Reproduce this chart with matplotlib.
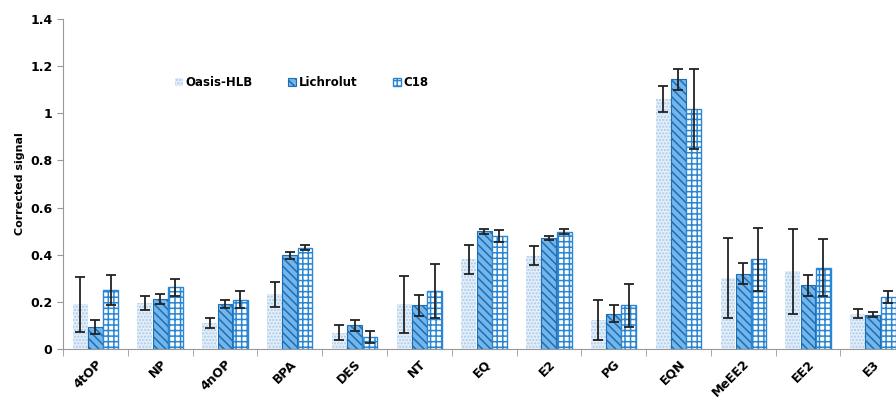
import numpy as np
import matplotlib.pyplot as plt
from matplotlib.ticker import FuncFormatter

# corrected signal per compound and SPE sorbent
compounds = ['4tOP', 'NP', '4nOP', 'BPA', 'DES', 'NT', 'EQ', 'E2', 'PG', 'EQN', 'MeEE2', 'EE2', 'E3']
oasis = [0.19, 0.195, 0.11, 0.232, 0.07, 0.19, 0.38, 0.395, 0.125, 1.06, 0.30, 0.33, 0.15]
oasis_err = [0.117, 0.03, 0.02, 0.053, 0.03, 0.12, 0.06, 0.04, 0.085, 0.055, 0.17, 0.18, 0.02]
lichrolut = [0.095, 0.213, 0.192, 0.398, 0.10, 0.185, 0.50, 0.47, 0.15, 1.145, 0.32, 0.27, 0.145]
lichrolut_err = [0.03, 0.022, 0.017, 0.015, 0.025, 0.045, 0.01, 0.008, 0.035, 0.045, 0.045, 0.045, 0.01]
c18 = [0.25, 0.262, 0.21, 0.43, 0.05, 0.245, 0.48, 0.498, 0.185, 1.02, 0.38, 0.345, 0.22]
c18_err = [0.065, 0.035, 0.035, 0.012, 0.025, 0.115, 0.025, 0.01, 0.09, 0.17, 0.135, 0.12, 0.025]

plt.rcParams['hatch.linewidth'] = 1.1

fig = plt.figure(figsize=(8.96, 3.99), dpi=100)
ax = fig.add_axes([0.0703, 0.1253, 0.94, 0.827])

x = np.arange(len(compounds))
w = 0.23
ebar = dict(ecolor='#222222', elinewidth=1.3, capsize=3.5, capthick=1.3)

ax.bar(x - 0.235, oasis, w, yerr=oasis_err, color='#e6f0fa', edgecolor='#a9cbea',
       hatch='.....', linewidth=0, label='Oasis-HLB', error_kw=ebar, zorder=2)
ax.bar(x, lichrolut, w, yerr=lichrolut_err, color='#72b6ec', edgecolor='#1f6db3',
       hatch='\\\\\\\\', linewidth=0.8, label='Lichrolut', error_kw=ebar, zorder=2)
ax.bar(x + 0.235, c18, w, yerr=c18_err, color='white', edgecolor='#2a86d2',
       hatch='+++', linewidth=1.0, label='C18', error_kw=ebar, zorder=2)

ax.set_xlim(-0.5, len(compounds) - 0.5)
ax.set_ylim(0, 1.4)
ax.set_yticks(np.arange(0, 1.41, 0.2))
ax.yaxis.set_major_formatter(FuncFormatter(lambda v, p: '{:g}'.format(round(v, 1))))
ax.set_xticks(x)
ax.set_xticklabels(compounds, rotation=45, ha='right', rotation_mode='anchor',
                   fontsize=9, fontweight='bold')
ax.set_xticks(np.arange(-0.5, len(compounds), 1), minor=True)
ax.tick_params(axis='x', which='major', length=0, pad=6)
ax.tick_params(axis='x', which='minor', length=5, color='#999999')
ax.tick_params(axis='y', length=4, color='#999999', labelsize=9)
for lab in ax.get_yticklabels():
    lab.set_fontweight('bold')
ax.set_ylabel('Corrected signal', fontsize=8, fontweight='bold')

for s in ['top', 'right']:
    ax.spines[s].set_visible(False)
for s in ['left', 'bottom']:
    ax.spines[s].set_color('#999999')

ax.legend(loc='upper left', bbox_to_anchor=(0.12, 0.86), ncol=3, frameon=False,
          prop={'size': 8.5, 'weight': 'bold'}, handlelength=0.7, handleheight=0.7,
          handletextpad=0.2, columnspacing=3.0)

plt.savefig('out.png', dpi=100)
